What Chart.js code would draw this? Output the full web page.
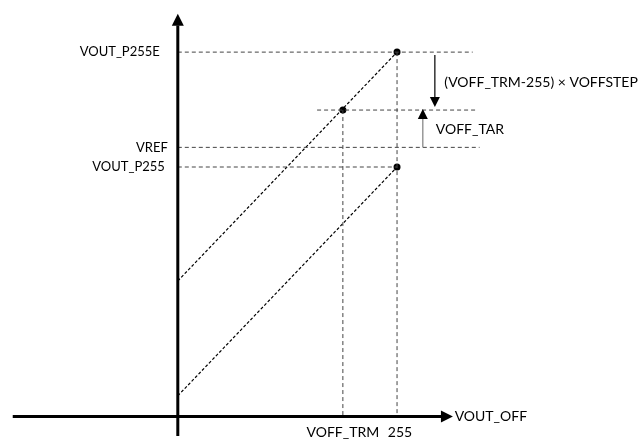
<!DOCTYPE html>
<html>
<head>
<meta charset="utf-8">
<script src="https://cdn.jsdelivr.net/npm/chart.js@4/dist/chart.umd.min.js"></script>
<style>
  html, body { margin: 0; padding: 0; background: #fff; }
  #wrap { width: 641px; height: 443px; }
</style>
</head>
<body>
<div id="wrap"><canvas id="c" width="641" height="443"></canvas></div>
<script>
// Offset code (x) against output voltage (y), in arbitrary units.
const xTickLabels = ['VOFF_TRM', '255'];
const xTickValues = [192, 255];
const yTickLabels = ['VOUT_P255E', 'VREF', 'VOUT_P255'];
const yTickValues = [371, 274, 254];
const targetLevel = 312;          // VREF + VOFF_TAR
const codeTrim = 192;             // VOFF_TRM
const codeMax = 255;

// Transfer lines before and after trimming
const trimmedLine = [{ x: 0, y: 138 }, { x: 255, y: 371 }];
const untrimmedLine = [{ x: 0, y: 21 }, { x: 255, y: 254 }];
// Operating points
const markers = [{ x: 255, y: 371 }, { x: 192, y: 312 }, { x: 255, y: 254 }];

// Reach of the dashed guides to the right (x units)
const guideEnds = { p255e: 343, target: 348, vref: 351, targetStart: 162 };

const guideStyle = {
  borderColor: '#444444', borderWidth: 1, borderDash: [4, 3],
  pointRadius: 0, showLine: true, fill: false
};
const slopeStyle = {
  borderColor: '#000', borderWidth: 1.2, borderDash: [3, 2],
  pointRadius: 0, showLine: true, fill: false
};

const datasets = [
  Object.assign({ data: [{ x: 0, y: yTickValues[0] }, { x: guideEnds.p255e, y: yTickValues[0] }] }, guideStyle),
  Object.assign({ data: [{ x: guideEnds.targetStart, y: targetLevel }, { x: guideEnds.target, y: targetLevel }] }, guideStyle),
  Object.assign({ data: [{ x: 0, y: yTickValues[1] }, { x: guideEnds.vref, y: yTickValues[1] }] }, guideStyle),
  Object.assign({ data: [{ x: 0, y: yTickValues[2] }, { x: codeMax, y: yTickValues[2] }] }, guideStyle),
  Object.assign({ data: [{ x: codeTrim, y: targetLevel }, { x: codeTrim, y: 0 }] }, guideStyle),
  Object.assign({ data: [{ x: codeMax, y: yTickValues[0] }, { x: codeMax, y: 0 }] }, guideStyle),
  Object.assign({ data: trimmedLine }, slopeStyle),
  Object.assign({ data: untrimmedLine }, slopeStyle),
  { data: markers, showLine: false, pointRadius: 3.5, pointBackgroundColor: '#000', pointBorderColor: '#000', borderWidth: 0 }
];

const FONT_Y = '13px Lato, "Open Sans", sans-serif';
const FONT = '14px Lato, "Open Sans", sans-serif';

function arrowHead(ctx, x, y, dir, len, half) {
  // dir: 'up' | 'down' | 'right'
  ctx.beginPath();
  if (dir === 'up') {
    ctx.moveTo(x, y); ctx.lineTo(x - half, y + len); ctx.lineTo(x + half, y + len);
  } else if (dir === 'down') {
    ctx.moveTo(x, y); ctx.lineTo(x - half, y - len); ctx.lineTo(x + half, y - len);
  } else {
    ctx.moveTo(x, y); ctx.lineTo(x - len, y - half); ctx.lineTo(x - len, y + half);
  }
  ctx.closePath();
  ctx.fill();
}

const diagramPlugin = {
  id: 'diagram',
  afterDatasetsDraw(chart) {
    const ctx = chart.ctx;
    const xs = chart.scales.x, ys = chart.scales.y;
    const px = v => xs.getPixelForValue(v);
    const py = v => ys.getPixelForValue(v);
    ctx.save();

    // Axes
    ctx.strokeStyle = '#000';
    ctx.fillStyle = '#000';
    ctx.lineWidth = 3;
    ctx.beginPath();
    ctx.moveTo(px(-192), py(0)); ctx.lineTo(px(310), py(0));
    ctx.moveTo(px(0), py(-20)); ctx.lineTo(px(0), py(398));
    ctx.stroke();
    arrowHead(ctx, px(320), py(0), 'right', 12, 6);
    arrowHead(ctx, px(0), py(410), 'up', 12, 6);

    // Offset step arrow (down, black)
    ctx.lineWidth = 1.2;
    ctx.strokeStyle = '#000';
    ctx.beginPath();
    ctx.moveTo(px(299), py(368)); ctx.lineTo(px(299), py(322));
    ctx.stroke();
    arrowHead(ctx, px(299), py(315), 'down', 10, 5);

    // Target offset arrow (up, grey shaft)
    ctx.strokeStyle = '#7f7f7f';
    ctx.beginPath();
    ctx.moveTo(px(285), py(yTickValues[1])); ctx.lineTo(px(285), py(304));
    ctx.stroke();
    arrowHead(ctx, px(285), py(313), 'up', 10, 5);

    // Text
    ctx.font = FONT_Y;
    ctx.fillStyle = '#000';
    ctx.textBaseline = 'middle';
    ctx.textAlign = 'right';
    yTickLabels.forEach((t, i) => {
      const off = i === 0 ? 18 : (i === 1 ? 10 : 13);
      ctx.fillText(t, px(0) - off, py(yTickValues[i]));
    });
    ctx.font = FONT;
    ctx.textAlign = 'center';
    ctx.fillText(xTickLabels[0], px(xTickValues[0]), py(0) + 16);
    ctx.fillText(xTickLabels[1], px(xTickValues[1]) + 3, py(0) + 16);
    ctx.textAlign = 'left';
    ctx.fillText('VOUT_OFF', px(322), py(0));
    ctx.fillText('(VOFF_TRM-255) \u00D7 VOFFSTEP', px(310), py(340));
    ctx.fillText('VOFF_TAR', px(300), py(292));
    ctx.restore();
  }
};

new Chart(document.getElementById('c'), {
  type: 'scatter',
  data: { datasets },
  options: {
    responsive: false,
    animation: false,
    events: [],
    layout: { padding: 0 },
    plugins: { legend: { display: false }, tooltip: { enabled: false } },
    scales: {
      x: { type: 'linear', display: false, min: -202.16, max: 534.12 },
      y: { type: 'linear', display: false, min: -23, max: 420 }
    }
  },
  plugins: [diagramPlugin]
});
</script>
</body>
</html>
